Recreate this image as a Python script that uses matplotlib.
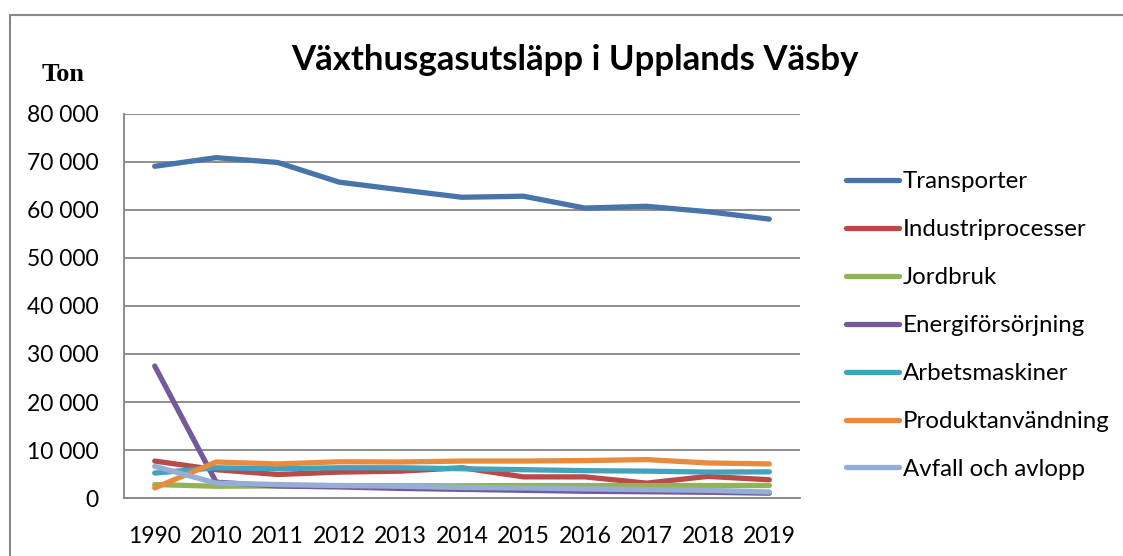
import matplotlib.pyplot as plt
from matplotlib.patches import Rectangle
from matplotlib.ticker import FuncFormatter

years = ['1990', '2010', '2011', '2012', '2013', '2014', '2015', '2016', '2017', '2018', '2019']

transporter = [69100, 70900, 69900, 65800, 64200, 62650, 62870, 60400, 60770, 59650, 58100]
industri = [7700, 5900, 4900, 5400, 5600, 6300, 4400, 4400, 3100, 4500, 3800]
jordbruk = [2800, 2450, 2500, 2550, 2550, 2550, 2600, 2600, 2600, 2600, 2600]
energi = [27500, 3300, 2500, 2300, 2000, 1800, 1600, 1400, 1300, 1200, 1000]
arbetsmaskiner = [5200, 6300, 6100, 6300, 6300, 6100, 5900, 5700, 5600, 5400, 5450]
produkt = [2100, 7500, 7100, 7550, 7500, 7700, 7700, 7800, 8000, 7300, 7100]
avfall = [6600, 3100, 2800, 2600, 2450, 2200, 2100, 1900, 1750, 1600, 1250]

series = [
    ('Transporter', transporter, '#4674AB'),
    ('Industriprocesser', industri, '#B94A47'),
    ('Jordbruk', jordbruk, '#93B454'),
    ('Energiförsörjning', energi, '#76599B'),
    ('Arbetsmaskiner', arbetsmaskiner, '#45A2BC'),
    ('Produktanvändning', produkt, '#E98B3E'),
    ('Avfall och avlopp', avfall, '#94AED6'),
]

plt.rcParams['font.family'] = ['Lato', 'DejaVu Sans']

fig = plt.figure(figsize=(11.23, 5.56), dpi=100)
ax = fig.add_axes([0.1104, 0.1043, 0.602, 0.6907])

x = range(len(years))
for name, vals, col in series:
    ax.plot(x, vals, color=col, linewidth=3.8, solid_capstyle='round', label=name)

ax.set_xlim(-0.5, len(years) - 0.5)
ax.set_ylim(0, 80000)
ax.set_yticks(range(0, 80001, 10000))
ax.yaxis.set_major_formatter(FuncFormatter(lambda v, p: f'{int(v):,}'.replace(',', ' ')))
ax.set_xticks(list(x))
ax.set_xticklabels(years)
ax.grid(axis='y', color='#868686', linewidth=1.3)
ax.set_axisbelow(True)
ax.tick_params(axis='both', length=0, labelsize=16.5)
ax.tick_params(axis='y', pad=18)
ax.tick_params(axis='x', pad=20)
for s in ['top', 'right']:
    ax.spines[s].set_visible(False)
for s in ['left', 'bottom']:
    ax.spines[s].set_color('#868686')
    ax.spines[s].set_linewidth(1.3)

fig.text(0.512, 0.892, 'Växthusgasutsläpp i Upplands Väsby', ha='center', va='center',
         fontsize=25, fontweight='bold')
fig.text(0.0565, 0.866, 'Ton', ha='center', va='center', fontsize=19,
         fontweight='bold', family='Liberation Serif')

leg = fig.legend(loc='upper left', bbox_to_anchor=(0.745, 0.709), frameon=False,
                 fontsize=17.3, handlelength=2.2, handletextpad=0.15,
                 labelspacing=1.12, borderaxespad=0)

fig.patches.append(Rectangle((10 / 1123, -0.1), 1.2, 1.1 - 15 / 556,
                             transform=fig.transFigure, fill=False,
                             edgecolor='#888888', linewidth=1.5))

fig.savefig('out.png', dpi=100)
